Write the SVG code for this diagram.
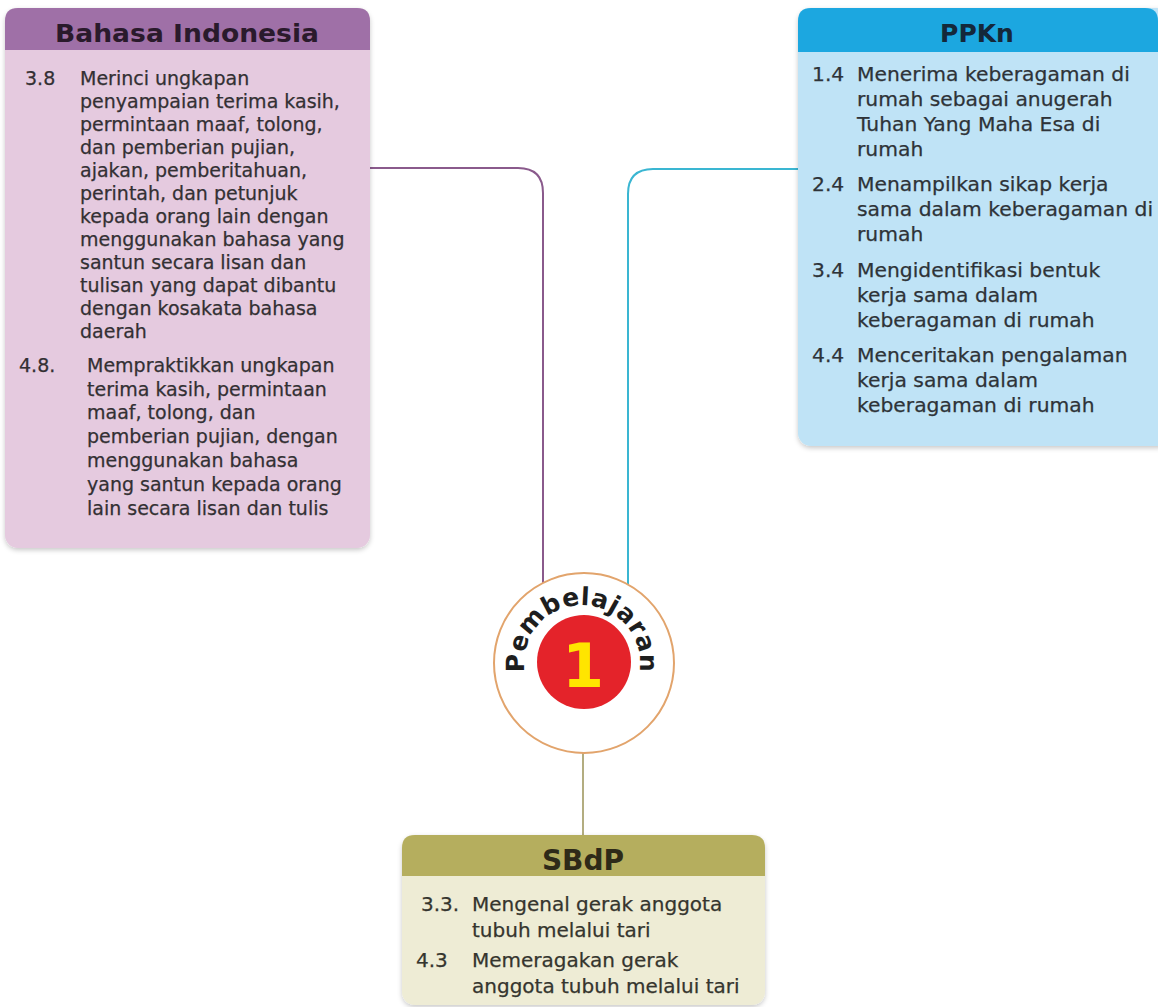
<svg xmlns="http://www.w3.org/2000/svg" width="1158" height="1007" viewBox="0 0 1158 1007">
<style>
.hd{font-family:"DejaVu Sans",sans-serif;font-weight:bold;text-anchor:middle}
.b{font-family:"DejaVu Sans",sans-serif;font-size:19px;fill:#333033;stroke:#333033;stroke-width:0.25}
.p{font-family:"DejaVu Sans",sans-serif;font-size:20.3px;fill:#2e3338;stroke:#2e3338;stroke-width:0.25}
.s{font-family:"DejaVu Sans",sans-serif;font-size:20px;fill:#35352e;stroke:#35352e;stroke-width:0.25}
.con{fill:none;stroke-width:2}
</style>
<defs>
<filter id="sh" x="-10%" y="-10%" width="120%" height="120%">
<feDropShadow dx="0" dy="2" stdDeviation="2.5" flood-color="#000" flood-opacity="0.22"/>
</filter>
<path id="arc" d="M529.4,687.5 A58,58 0 1,1 634.6,687.5"/>
</defs>
<rect width="1158" height="1007" fill="#ffffff"/>
<g id="connectors">
<path class="con" stroke="#8a5a8c" d="M370,168 H518 Q543,168 543,193 V590"/>
<path class="con" stroke="#3ab6d2" d="M798,169 H653 Q628,169 628,194 V590"/>
<path class="con" stroke="#b3ad80" d="M583,750 V836"/>
</g>
<g id="bahasa-indonesia">
<rect x="5" y="8" width="365" height="540" rx="13" fill="#e5cadf" filter="url(#sh)"/>
<path d="M5,50 V21 Q5,8 18,8 H357 Q370,8 370,21 V50 Z" fill="#9f70a7"/>
<text class="hd" x="187" y="42" font-size="25" fill="#2a1a2c" textLength="264" lengthAdjust="spacingAndGlyphs">Bahasa Indonesia</text>
<text class="b">
<tspan x="25" y="85">3.8</tspan>
<tspan x="80" y="85">Merinci ungkapan</tspan>
<tspan x="80" y="108">penyampaian terima kasih,</tspan>
<tspan x="80" y="131">permintaan maaf, tolong,</tspan>
<tspan x="80" y="154">dan pemberian pujian,</tspan>
<tspan x="80" y="177">ajakan, pemberitahuan,</tspan>
<tspan x="80" y="200">perintah, dan petunjuk</tspan>
<tspan x="80" y="223">kepada orang lain dengan</tspan>
<tspan x="80" y="246">menggunakan bahasa yang</tspan>
<tspan x="80" y="269">santun secara lisan dan</tspan>
<tspan x="80" y="292">tulisan yang dapat dibantu</tspan>
<tspan x="80" y="315">dengan kosakata bahasa</tspan>
<tspan x="80" y="338">daerah</tspan>
<tspan x="19" y="372">4.8.</tspan>
<tspan x="87" y="372">Mempraktikkan ungkapan</tspan>
<tspan x="87" y="396">terima kasih, permintaan</tspan>
<tspan x="87" y="419">maaf, tolong, dan</tspan>
<tspan x="87" y="443">pemberian pujian, dengan</tspan>
<tspan x="87" y="467">menggunakan bahasa</tspan>
<tspan x="87" y="491">yang santun kepada orang</tspan>
<tspan x="87" y="515">lain secara lisan dan tulis</tspan>
</text>
</g>
<g id="ppkn">
<rect x="798" y="8" width="372" height="438" rx="13" fill="#bfe3f6" filter="url(#sh)"/>
<path d="M798,52 V21 Q798,8 811,8 H1145 Q1158,8 1158,21 V52 Z" fill="#1ca7e0"/>
<text class="hd" x="977" y="42" font-size="25" fill="#14283a">PPKn</text>
<text class="p">
<tspan x="812" y="81">1.4</tspan>
<tspan x="857" y="81">Menerima keberagaman di</tspan>
<tspan x="857" y="106">rumah sebagai anugerah</tspan>
<tspan x="857" y="131">Tuhan Yang Maha Esa di</tspan>
<tspan x="857" y="156">rumah</tspan>
<tspan x="812" y="191">2.4</tspan>
<tspan x="857" y="191">Menampilkan sikap kerja</tspan>
<tspan x="857" y="216">sama dalam keberagaman di</tspan>
<tspan x="857" y="241">rumah</tspan>
<tspan x="812" y="277">3.4</tspan>
<tspan x="857" y="277">Mengidentifikasi bentuk</tspan>
<tspan x="857" y="302">kerja sama dalam</tspan>
<tspan x="857" y="327">keberagaman di rumah</tspan>
<tspan x="812" y="362">4.4</tspan>
<tspan x="857" y="362">Menceritakan pengalaman</tspan>
<tspan x="857" y="387">kerja sama dalam</tspan>
<tspan x="857" y="412">keberagaman di rumah</tspan>
</text>
</g>
<g id="sbdp">
<rect x="402" y="835" width="363" height="170" rx="13" fill="#eeecd5" filter="url(#sh)"/>
<path d="M402,876 V848 Q402,835 415,835 H752 Q765,835 765,848 V876 Z" fill="#b5ae5e"/>
<text class="hd" x="583" y="870" font-size="28" fill="#2e2a18">SBdP</text>
<text class="s">
<tspan x="421" y="911">3.3.</tspan>
<tspan x="472" y="911">Mengenal gerak anggota</tspan>
<tspan x="472" y="937">tubuh melalui tari</tspan>
<tspan x="416" y="967">4.3</tspan>
<tspan x="472" y="967">Memeragakan gerak</tspan>
<tspan x="472" y="993">anggota tubuh melalui tari</tspan>
</text>
</g>
<g id="pembelajaran-1">
<circle cx="584" cy="663" r="90" fill="#ffffff" stroke="#e2a46c" stroke-width="2"/>
<circle cx="584" cy="662" r="47" fill="#e4232a"/>
<text x="583" y="687" font-family="DejaVu Sans,sans-serif" font-weight="bold" font-size="60" fill="#ffe500" text-anchor="middle">1</text>
<text font-family="DejaVu Sans,sans-serif" font-weight="bold" font-size="25" fill="#1e1e1e" letter-spacing="0.5"><textPath href="#arc" startOffset="50%" text-anchor="middle">Pembelajaran</textPath></text>
</g>
</svg>
